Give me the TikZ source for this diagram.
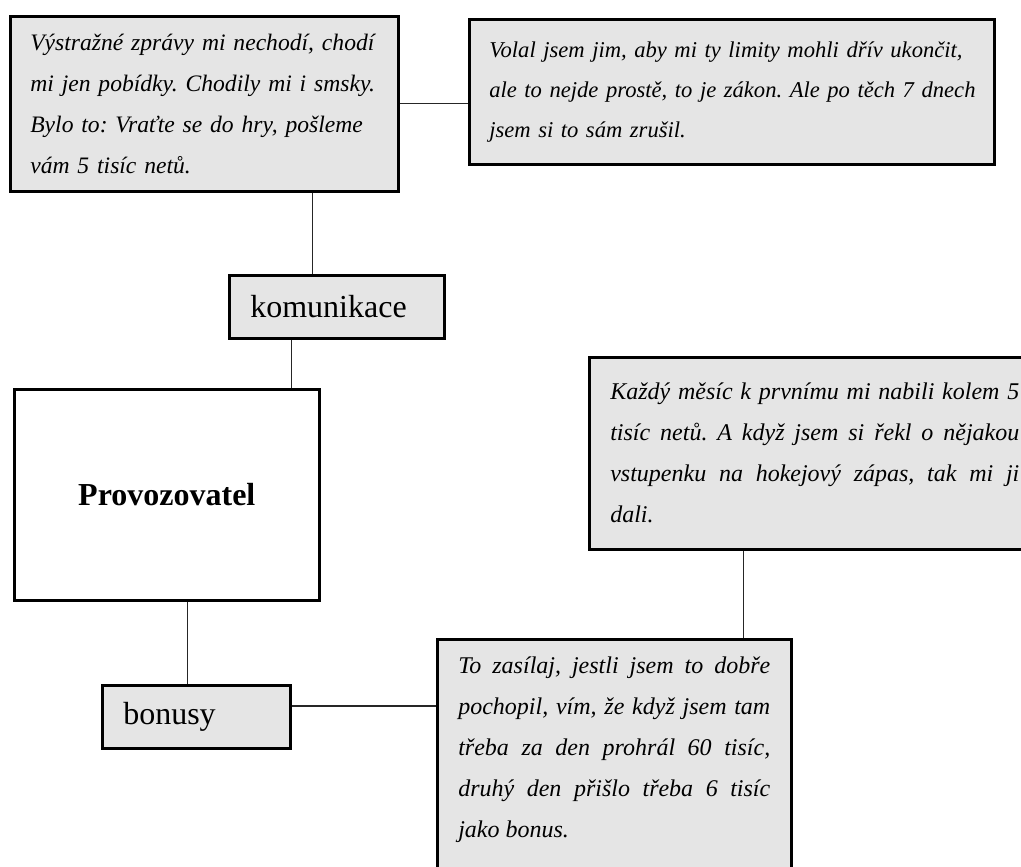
\documentclass[tikz,border=0pt]{standalone}
\usepackage{fontspec}
\setmainfont{Liberation Serif}
\usepackage{tikz}
\usetikzlibrary{calc}

\begin{document}
\begin{tikzpicture}[x=0.5pt,y=-0.5pt,
		citat/.style={draw=black,line width=1.3pt,fill=black!10,anchor=north west,inner xsep=10pt,font={\fontsize{12pt}{20.5pt}\selectfont\itshape\frenchspacing\hyphenpenalty=10000}},
		stitek/.style={draw=black,line width=1.3pt,fill=black!10,anchor=north west,inner xsep=10.5pt,inner ysep=0pt,minimum height=31.5pt,align=left,font={\fontsize{16pt}{19pt}\selectfont}},
		spoj/.style={line width=0.65pt,draw=black!85}]
		\useasboundingbox (0,0) rectangle (1021,866);
		\clip (0,0) rectangle (1021,866);
		
		\node[citat,text width=174pt,minimum height=87.5pt,align=left,font={\fontsize{11.8pt}{20.5pt}\selectfont\itshape\frenchspacing}] (zpravy) at (9,15) {Výstražné zprávy mi nechodí, chodí\\ mi jen pobídky. Chodily mi i smsky.\\ Bylo to: Vraťte se do hry, pošleme\\ vám 5 tisíc netů.};
		
		\node[citat,text width=242.5pt,minimum height=72.5pt,align=left,font={\fontsize{11.3pt}{20pt}\selectfont\itshape\frenchspacing\spaceskip=.21em plus .05em}] (volal) at (468,18) {\mbox{Volal jsem jim, aby mi ty limity mohli dřív ukončit,}\\ \mbox{ale to nejde prostě, to je zákon. Ale po těch 7 dnech}\\ jsem si to sám zrušil.};
		
		\node[stitek,text width=86.5pt] (kom) at (228,274) {komunikace};
		
		\node[draw=black,line width=1.3pt,fill=white,anchor=north west,minimum width=152.5pt,minimum height=105.5pt,font={\fontsize{16pt}{19pt}\selectfont\bfseries}] (prov) at (13,388) {Provozovatel};
		
		\node[citat,text width=204.5pt,inner xsep=10.5pt,minimum height=96pt,align=justify] (kazdy) at (588,356) {Každý měsíc k prvnímu mi nabili kolem 5\linebreak tisíc netů. A když jsem si řekl o nějakou\linebreak vstupenku na hokejový zápas, tak mi ji\linebreak dali.};
		
		\node[stitek,text width=73pt] (bonusy) at (101,684) {bonusy};
		
		\node[citat,text width=156pt,inner xsep=10.5pt,inner ysep=9pt,align=justify] (zasilaj) at (436,638) {To zasílaj, jestli jsem to dobře\linebreak pochopil, vím, že když jsem tam\linebreak třeba za den prohrál 60 tisíc,\linebreak druhý den přišlo třeba 6 tisíc\linebreak jako bonus.\par\rule{0pt}{24pt}};
		
		\draw[spoj] (zpravy.east) -- (zpravy.east -| volal.west);
		\draw[spoj] ([xshift=-12.25pt]kom.north) -- ([xshift=-12.25pt]kom.north |- zpravy.south);
		\draw[spoj] ([xshift=-14.5pt]prov.north east) -- ([xshift=-14.5pt]prov.north east |- kom.south);
		\draw[spoj] ([xshift=-4.5pt]bonusy.north) -- ([xshift=-4.5pt]bonusy.north |- prov.south);
		\draw[spoj] ([yshift=-11pt]bonusy.north east) -- ([yshift=-11pt]bonusy.north east -| zasilaj.west);
		\draw[spoj] ([xshift=-24.5pt]zasilaj.north east) -- ([xshift=-24.5pt]zasilaj.north east |- kazdy.south);
		
\end{tikzpicture}
\end{document}
